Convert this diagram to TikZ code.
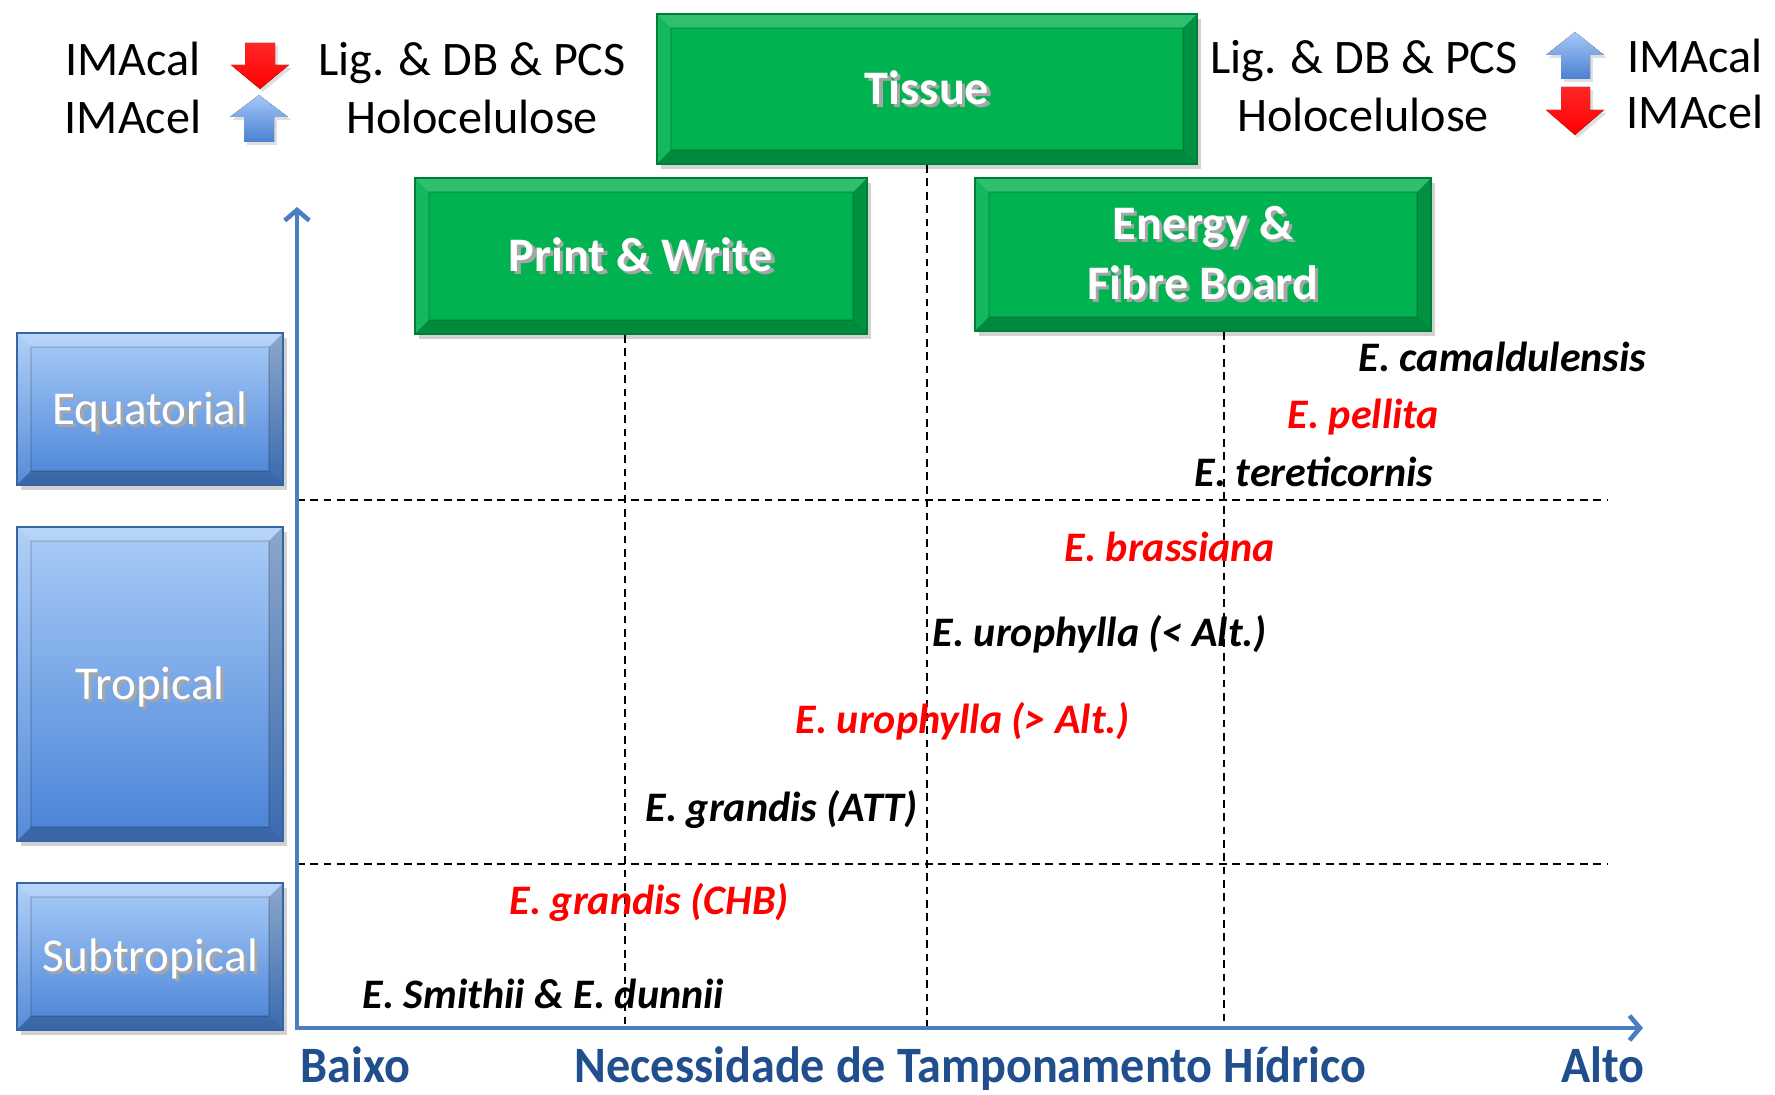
\documentclass[tikz,border=0pt]{standalone}
\usepackage{fontspec}
\setmainfont{Carlito}
\usetikzlibrary{arrows.meta,shadows}
\definecolor{gbase}{RGB}{0,178,80}
\definecolor{gdark}{RGB}{0,125,55}
\definecolor{bltop}{RGB}{170,205,248}
\definecolor{blbot}{RGB}{72,130,214}
\definecolor{bledge}{RGB}{55,100,165}
\definecolor{axline}{RGB}{74,126,193}
\definecolor{axtext}{RGB}{33,78,140}
\definecolor{sred}{RGB}{255,0,0}
\definecolor{arblue1}{RGB}{165,200,247}
\definecolor{arblue2}{RGB}{75,128,210}
\newcommand\tshd[1]{\makebox[0pt][l]{\kern0.9pt\raisebox{-0.9pt}{\textcolor{black!35}{#1}}}#1}
\newcommand\midcap[1]{\raisebox{-4.3pt}[0pt][0pt]{\tshd{#1}}}
\tikzset{
  bevelpic/.style={path picture={
    \fill[white,opacity=0.18] (path picture bounding box.north west) -- (path picture bounding box.north east) -- ([shift={(-14,14)}]path picture bounding box.north east) -- ([shift={(14,14)}]path picture bounding box.north west) -- cycle;
    \fill[white,opacity=0.08] (path picture bounding box.north west) -- ([shift={(14,14)}]path picture bounding box.north west) -- ([shift={(14,-14)}]path picture bounding box.south west) -- (path picture bounding box.south west) -- cycle;
    \fill[black,opacity=0.18] (path picture bounding box.north east) -- ([shift={(-14,14)}]path picture bounding box.north east) -- ([shift={(-14,-14)}]path picture bounding box.south east) -- (path picture bounding box.south east) -- cycle;
    \fill[black,opacity=0.22] (path picture bounding box.south west) -- ([shift={(14,-14)}]path picture bounding box.south west) -- ([shift={(-14,-14)}]path picture bounding box.south east) -- (path picture bounding box.south east) -- cycle;
    \draw[black,opacity=0.12,line width=0.5pt] ([shift={(14,14)}]path picture bounding box.north west) rectangle ([shift={(-14,-14)}]path picture bounding box.south east);
  }},
  greenbox/.style={draw=gdark, line width=0.6pt, fill=gbase, text=white,
    font=\fontsize{13.7}{16.5}\selectfont\bfseries, align=center, inner sep=0pt,
    drop shadow={shadow xshift=1.2pt, shadow yshift=-1.4pt, opacity=0.35}, bevelpic},
  bluebox/.style={draw=bledge, line width=0.6pt, top color=bltop, bottom color=blbot, text=white,
    font=\fontsize{13.4}{16}\selectfont, align=center, inner sep=0pt,
    drop shadow={shadow xshift=1.2pt, shadow yshift=-1.4pt, opacity=0.35}, bevelpic},
  toplbl/.style={font=\fontsize{13.7}{16}\selectfont, anchor=base, inner sep=0pt},
  sp/.style={font=\fontsize{11.95}{14}\selectfont\bfseries\itshape, anchor=base west, inner sep=0pt},
  axlbl/.style={font=\fontsize{14.5}{17}\selectfont\bfseries, text=axtext, inner sep=0pt},
  axisline/.style={draw=axline, line width=1.3pt, {Straight Barb[length=3pt,width=7pt]}-{Straight Barb[length=3pt,width=7pt]}},
  dashline/.style={black, line width=0.45pt, dash pattern=on 2.2pt off 1.6pt},
  redarr/.style={top color=sred!85!white, bottom color=sred, draw=none, drop shadow={shadow xshift=0.8pt, shadow yshift=-0.8pt, opacity=0.25}},
  bluearr/.style={top color=arblue1, bottom color=arblue2, draw=none, drop shadow={shadow xshift=0.8pt, shadow yshift=-0.8pt, opacity=0.25}},
}
\begin{document}
\begin{tikzpicture}[x=0.01cm, y=-0.01cm]
\useasboundingbox[fill=white] (0,0) rectangle (1775,1095);

% top legend
\node[toplbl] (lcal) at (133,76) {IMAcal};
\node[toplbl] (lcel) at (133,134) {IMAcel};
\node[toplbl] (llig) at (472,76) {Lig. \& DB \& PCS};
\node[toplbl] (lhol) at (472,134) {Holocelulose};
\node[toplbl] (rlig) at (1364,74) {Lig. \& DB \& PCS};
\node[toplbl] (rhol) at (1363,132) {Holocelulose};
\node[toplbl] (rcal) at (1695,73) {IMAcal};
\node[toplbl] (rcel) at (1695,129) {IMAcel};

% block arrows
\fill[redarr] (245,43) -- (275,43) -- (275,65) -- (289,65) -- (260,89) -- (231,65) -- (245,65) -- cycle;
\fill[bluearr] (259,95) -- (288,117) -- (274,117) -- (274,142) -- (244,142) -- (244,117) -- (230,117) -- cycle;
\fill[bluearr] (1575,32) -- (1604,55) -- (1590,55) -- (1590,79) -- (1561,79) -- (1561,55) -- (1546,55) -- cycle;
\fill[redarr] (1561,87) -- (1590,87) -- (1590,110) -- (1604,110) -- (1575,135) -- (1546,110) -- (1561,110) -- cycle;

% green boxes
\node[greenbox, minimum width=5.40cm, minimum height=1.50cm] (tis) at (927,89) {\midcap{Tissue}};
\node[greenbox, minimum width=4.52cm, minimum height=1.56cm] (pw) at (641,256) {\midcap{Print \& Write}};
\node[greenbox, minimum width=4.56cm, minimum height=1.53cm] (en) at (1203,254.5) {\tshd{Energy \&}\\[0.5pt]\tshd{Fibre Board}};

% blue boxes
\node[bluebox, minimum width=2.66cm, minimum height=1.52cm] (eq) at (150,409) {\midcap{Equatorial}};
\node[bluebox, minimum width=2.66cm, minimum height=3.14cm] (tr) at (150,684) {\midcap{Tropical}};
\node[bluebox, minimum width=2.66cm, minimum height=1.47cm] (st) at (150,956.5) {\midcap{Subtropical}};

% axes
\coordinate (O) at (297,1028);
\coordinate (Ytop) at (297,207);
\coordinate (Xend) at (1643,1028);
\coordinate (h1a) at (297,500);
\coordinate (h1b) at (1607,500);
\coordinate (h2a) at (297,864);
\coordinate (h2b) at (1607,864);
\coordinate (v1) at (625,1028);
\coordinate (v3) at (1224,1028);

\draw[dashline] (h1a) -- (h1b);
\draw[dashline] (h2a) -- (h2b);
\draw[dashline] (pw.south -| v1) -- (v1);
\draw[dashline] (tis.south) -- (tis.south |- O);
\draw[dashline] (en.south -| v3) -- (v3);

\draw[axisline] (Ytop) -- (O) -- (Xend);

% species
\node[sp] (cam) at (1358,372) {E. camaldulensis};
\node[sp, text=sred] (pel) at (1287,429) {E. pellita};
\node[sp] (ter) at (1194,487) {E. tereticornis};
\node[sp, text=sred] (bra) at (1064,562) {E. brassiana};
\node[sp] (uro1) at (932,647) {E. urophylla (< Alt.)};
\node[sp, text=sred] (uro2) at (795,734) {E. urophylla (> Alt.)};
\node[sp] (gatt) at (645,822) {E. grandis (ATT)};
\node[sp, text=sred] (gchb) at (509,915) {E. grandis (CHB)};
\node[sp] (smi) at (362,1009) {E. Smithii \& E. dunnii};

% axis labels
\node[axlbl, anchor=base west] (baixo) at (300,1083) {\scalebox{0.945}[1]{Baixo}};
\node[axlbl, anchor=base west] (nec) at (574,1083) {\scalebox{0.945}[1]{Necessidade de Tamponamento Hídrico}};
\node[axlbl, anchor=base east] (alto) at (1645,1083) {\scalebox{0.945}[1]{Alto}};
\end{tikzpicture}
\end{document}
